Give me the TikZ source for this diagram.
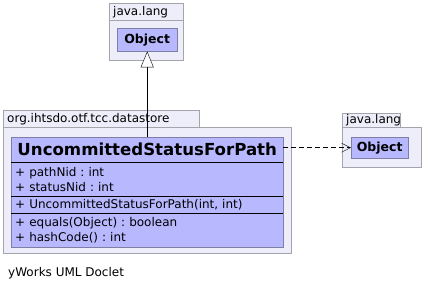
\documentclass[tikz,border=0pt]{standalone}
\usepackage{fontspec}
\setmainfont{DejaVu Sans}
\frenchspacing
\usetikzlibrary{arrows.meta,positioning,fit}
\definecolor{pkgfill}{HTML}{EEEEFA}
\definecolor{pkgline}{HTML}{A4A4AC}
\definecolor{clsfill}{HTML}{B8B8FF}
\definecolor{clsline}{HTML}{7E7EA6}
\tikzset{
  pkgtab/.style={rectangle, draw=pkgline, fill=pkgfill, anchor=north west, inner xsep=4pt, inner ysep=0pt, align=left, font=\fontsize{12}{14}\selectfont},
  pkgbody/.style={rectangle, draw=pkgline, fill=pkgfill, anchor=north west, inner sep=0pt},
  clsbox/.style={rectangle, draw=clsline, fill=clsfill, anchor=north west, inner sep=0pt, font=\bfseries\fontsize{12.5}{14}\selectfont},
  clsname/.style={rectangle, fill=clsfill, anchor=north west, inner sep=0pt, font=\bfseries\fontsize{16.6}{18}\selectfont},
  members/.style={rectangle, fill=clsfill, inner xsep=4pt, inner ysep=0pt, align=left, font=\fontsize{12}{15}\selectfont},
  clsframe/.style={rectangle, draw=clsline, inner sep=0pt},
  sepline/.style={black},
  inherit/.style={-{Triangle[open, length=16pt, width=13pt, fill=white]}, black},
  depend/.style={-{Straight Barb[length=9pt, width=9pt]}, black, dash pattern=on 5pt off 3pt}
}
\begin{document}
\begin{tikzpicture}[x=1pt, y=-1pt]
  \useasboundingbox[fill=white] (0,0) rectangle (423,291);
  % packages
  \node[pkgtab, minimum width=74pt, minimum height=17pt, text width=66pt] (langtab) at (109,3) {java.lang};
  \node[pkgbody, minimum width=74pt, minimum height=40pt] (langbody) at (109,20) {};
  \node[pkgtab, minimum width=196pt, minimum height=17pt, text width=188pt] (storetab) at (3,110) {org.ihtsdo.otf.tcc.datastore};
  \node[pkgbody, minimum width=288pt, minimum height=126pt] (storebody) at (3,127) {};
  \node[pkgtab, minimum width=58pt, minimum height=14pt, text width=50pt] (langtabB) at (342,113) {java.lang};
  \node[pkgbody, minimum width=79pt, minimum height=40pt] (langbodyB) at (342,127) {};
  % classes
  \node[clsbox, minimum width=60pt, minimum height=23pt] (objA) at (117,28) {Object};
  \node[clsbox, minimum width=57pt, minimum height=21pt] (objB) at (351,137) {Object};
  \node[clsname, minimum width=272pt, minimum height=25pt] (nameA) at (11,137) {UncommittedStatusForPath};
  \node[members, below=0pt of nameA, minimum height=33pt, text width=264pt] (attrA) {+ pathNid : int\\+ statusNid : int};
  \node[members, below=0pt of attrA, minimum height=17pt, text width=264pt] (ctorA) {+ UncommittedStatusForPath(int, int)};
  \node[members, below=0pt of ctorA, minimum height=34pt, text width=264pt] (methA) {+ equals(Object) : boolean\\+ hashCode() : int};
  \node[clsframe, fit=(nameA)(methA)] (clsA) {};
  \draw[sepline] (attrA.north west) -- (attrA.north east);
  \draw[sepline] (ctorA.north west) -- (ctorA.north east);
  \draw[sepline] (methA.north west) -- (methA.north east);
  % relations
  \draw[inherit] (nameA.north) -- (objA.south);
  \draw[depend] (nameA.east |- objB.west) -- (objB.west);
  \node[anchor=west, inner sep=0pt, font=\fontsize{12}{14}\selectfont] (doclet) at (8,273) {yWorks UML Doclet};
\end{tikzpicture}
\end{document}
